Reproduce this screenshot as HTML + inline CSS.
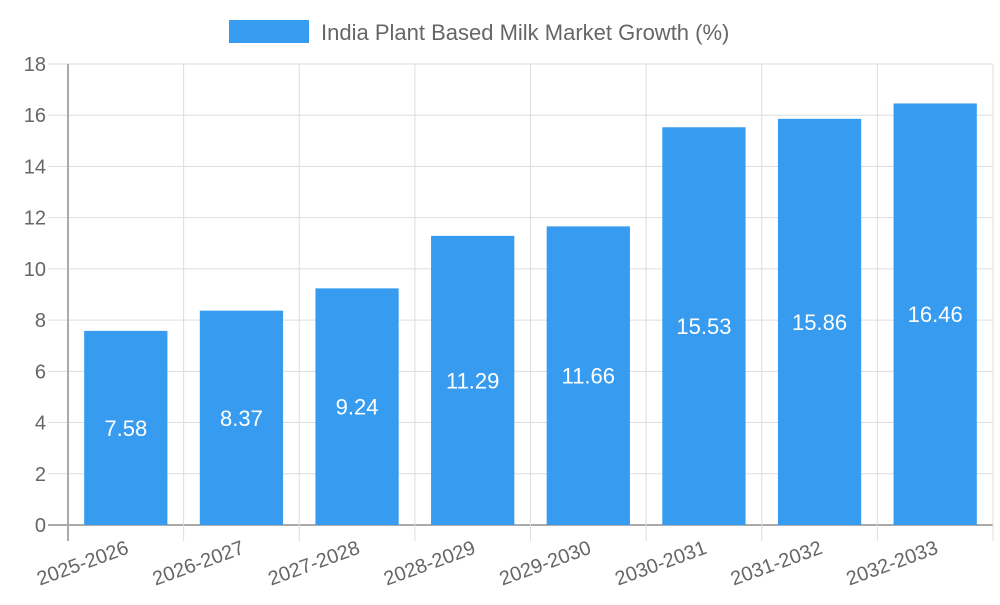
<!DOCTYPE html>
<html><head><meta charset="utf-8"><style>
body{margin:0;background:#fff}
svg{font-family:"Liberation Sans",sans-serif}
</style></head><body>
<svg id="c" width="1000" height="600"></svg>
<script>
const categories=["2025-2026","2026-2027","2027-2028","2028-2029","2029-2030","2030-2031","2031-2032","2032-2033"];
const values=[7.58,8.37,9.24,11.29,11.66,15.53,15.86,16.46];
const yTicks=[0,2,4,6,8,10,12,14,16,18];
const NS="http://www.w3.org/2000/svg";
const svg=document.getElementById('c');
const L=68,R=993,T=64,B=525,yMax=18;
const y=v=>B-(v/yMax)*(B-T);
const cw=(R-L)/categories.length;
const x=i=>L+cw*i;
function mk(t,a,txt){const e=document.createElementNS(NS,t);for(const k in a)e.setAttribute(k,a[k]);if(txt!==undefined)e.textContent=txt;svg.appendChild(e);return e;}
yTicks.forEach(t=>{
  const g=mk('line',{x1:48,x2:R,y1:y(t),y2:y(t),stroke:t===0?'#aaa':'#ddd','stroke-width':t===0?2:1});
  
  const l=mk('text',{x:46,y:y(t)+7,'text-anchor':'end','font-size':20,fill:'#666'},t);
  
});
for(let i=0;i<=categories.length;i++){
  const g=mk('line',{x1:x(i),x2:x(i),y1:T,y2:541,stroke:i===0?'#aaa':'#ddd','stroke-width':i===0?2:1});
  
}
values.forEach((v,i)=>{
  const bw=cw*0.72,bx=x(i)+(cw-bw)/2;
  const r=mk('rect',{x:bx,y:y(v),width:bw,height:B-y(v),fill:'#379cf0'});
  
  const t=mk('text',{x:bx+bw/2,y:(y(v)+B)/2+8,'text-anchor':'middle','font-size':22,fill:'#fff'},v.toFixed(2));
  
});
categories.forEach((c,i)=>{
  const cx=x(i)+cw/2+4,cy=553;
  const t=mk('text',{x:cx,y:cy,'text-anchor':'end','font-size':20,fill:'#666',transform:`rotate(-20 ${cx} ${cy})`},c);
  
});
const lb=mk('rect',{x:229,y:20,width:80,height:23,fill:'#379cf0'});

const lt=mk('text',{x:321,y:40,'font-size':22,fill:'#666'},'India Plant Based Milk Market Growth (%)');

</script>
</body></html>
